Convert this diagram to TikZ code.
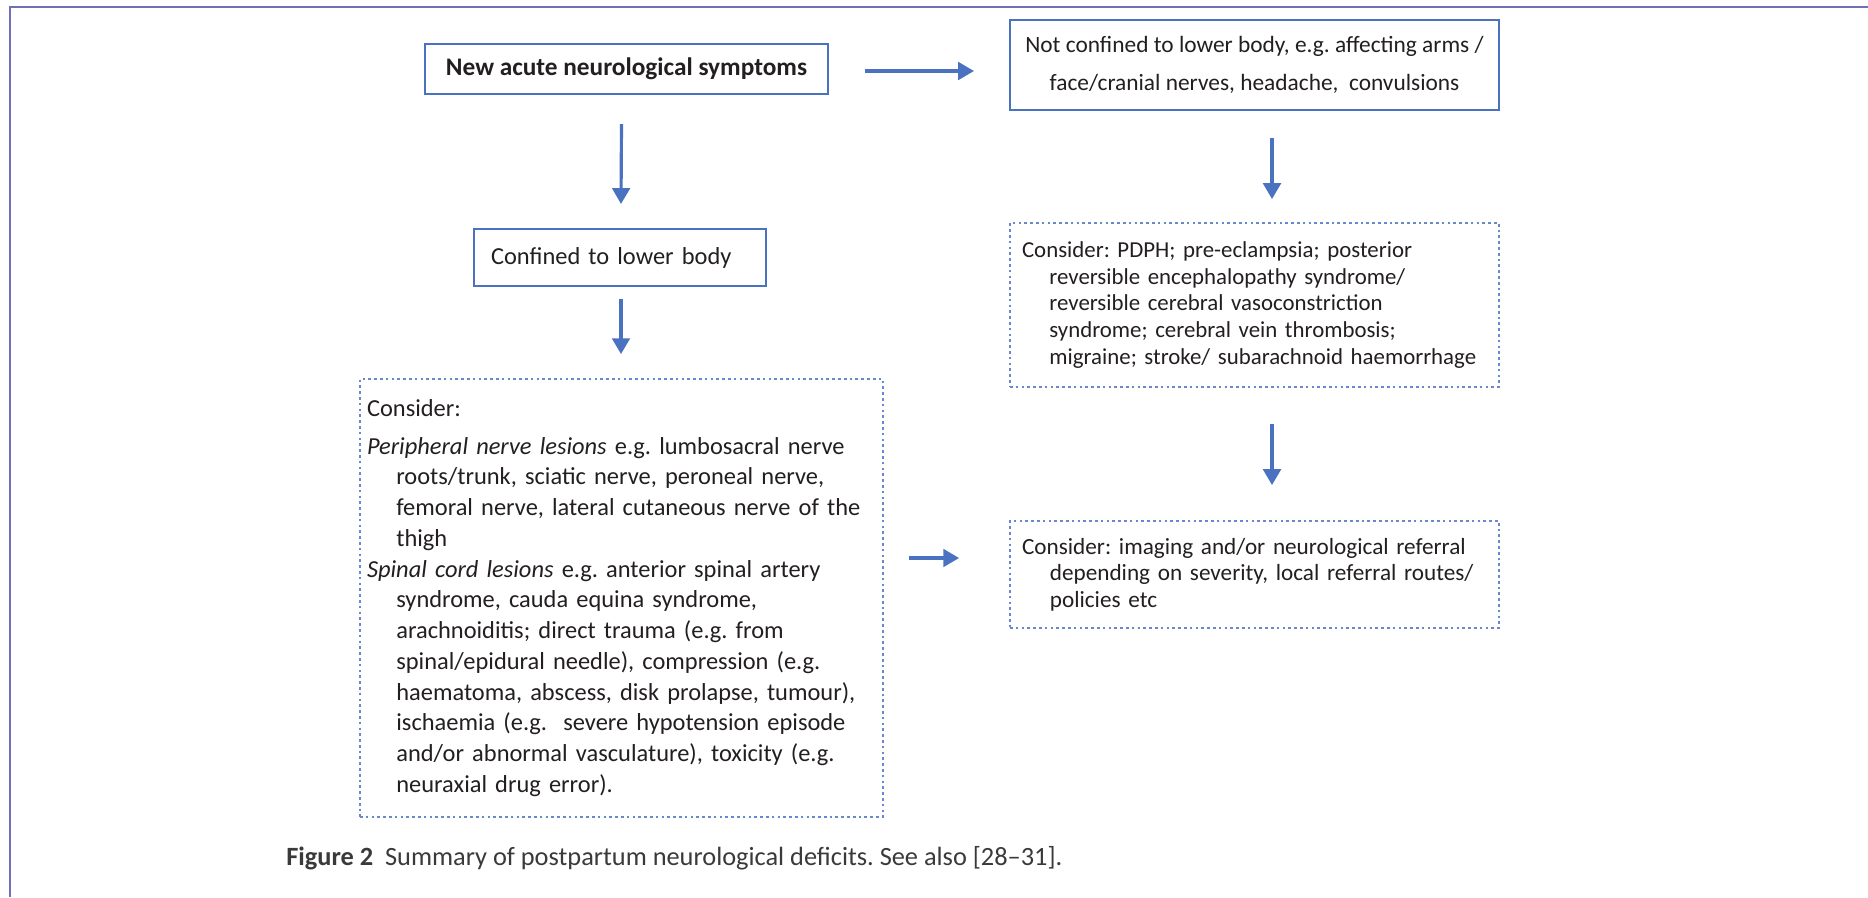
\documentclass[tikz,border=0pt]{standalone}
\usepackage{fontspec}
\setmainfont{Carlito}
\usetikzlibrary{arrows.meta,calc}
\definecolor{boxblue}{HTML}{4A72C0}
\definecolor{dotblue}{HTML}{6A88CC}
\definecolor{framec}{HTML}{7070B8}
\definecolor{txt}{HTML}{231F20}
\definecolor{captxt}{HTML}{3A3A3A}
\frenchspacing
\begin{document}
\begin{tikzpicture}[x=0.02cm,y=-0.02cm,
  basebox/.style={inner sep=0pt, text=txt, font=\fontsize{13}{15.1}\selectfont},
  solidbox/.style={basebox, draw=boxblue, line width=1.2pt},
  dotbox/.style={basebox, draw=dotblue, line width=1.1pt, dash pattern=on 1.5pt off 1.8pt},
  arr/.style={draw=boxblue, line width=1.8pt, -{Triangle[length=9pt,width=10pt]}}]
\useasboundingbox (0,0) rectangle (1868,897);
\fill[white] (0,0) rectangle (1868,897);
\draw[framec, line width=1.5pt] (10,897) -- (10,7) -- (1868,7);

\node[solidbox, minimum width=8.06cm, minimum height=1.0cm, align=center,
  font=\fontsize{14.4}{16}\selectfont\bfseries] (b1) at (626.5,69) {New acute neurological symptoms};
\node[solidbox, minimum width=9.78cm, minimum height=1.8cm, align=center,
  font=\fontsize{13.3}{22}\selectfont] (b4) at (1254.5,65)
  {Not confined to lower body, e.g. affecting arms /\\face/cranial nerves, headache,\ \ convulsions};
\node[solidbox, minimum width=5.84cm, minimum height=1.14cm, text width=5.16cm, inner xsep=0.34cm, align=left,
  font=\fontsize{13.9}{16}\selectfont] (b2) at (620,257.5) {Confined to lower body};
\node[dotbox, minimum width=10.46cm, minimum height=8.76cm, text width=10.18cm, inner xsep=0.14cm, align=left,
  font=\fontsize{13.9}{17.5}\selectfont] (b3) at (621.5,598)
  {Consider:\\[4pt]
   \textit{Peripheral nerve lesions} e.g. lumbosacral nerve\\
   \hspace*{1.2em}roots/trunk, sciatic nerve, peroneal nerve,\\
   \hspace*{1.2em}femoral nerve, lateral cutaneous nerve of the\\
   \hspace*{1.2em}thigh\\
   \textit{Spinal cord lesions} e.g. anterior spinal artery\\
   \hspace*{1.2em}syndrome, cauda equina syndrome,\\
   \hspace*{1.2em}arachnoiditis; direct trauma (e.g. from\\
   \hspace*{1.2em}spinal/epidural needle), compression (e.g.\\
   \hspace*{1.2em}haematoma, abscess, disk prolapse, tumour),\\
   \hspace*{1.2em}ischaemia (e.g.\ \ severe hypotension episode\\
   \hspace*{1.2em}and/or abnormal vasculature), toxicity (e.g.\\
   \hspace*{1.2em}neuraxial drug error).};
\node[dotbox, minimum width=9.78cm, minimum height=3.28cm, text width=9.3cm, inner xsep=0.24cm, align=left] (b6) at (1254.5,305)
  {Consider: PDPH; pre-eclampsia; posterior\\
   \hspace*{1.2em}reversible encephalopathy syndrome/\\
   \hspace*{1.2em}reversible cerebral vasoconstriction\\
   \hspace*{1.2em}syndrome; cerebral vein thrombosis;\\
   \hspace*{1.2em}migraine; stroke/ subarachnoid haemorrhage};
\node[dotbox, minimum width=9.78cm, minimum height=2.14cm, text width=9.3cm, inner xsep=0.24cm, align=left,
  font=\fontsize{13.2}{15.1}\selectfont] (b5) at (1254.5,574.5)
  {Consider: imaging and/or neurological referral\\
   \hspace*{1.2em}depending on severity, local referral routes/\\
   \hspace*{1.2em}policies etc};

\node[anchor=west, inner sep=0pt, text=captxt, font=\fontsize{15}{17}\selectfont] (cap) at (286,858)
  {\textbf{Figure 2}\ \ Summary of postpartum neurological deficits. See also [28--31].};

\draw[arr] ($(b1.east)+(36,2)$) -- ($(b4.west)+(-35,6)$);
\draw[arr] ($(b1.south)+(-5,29)$) -- ($(b2.north)+(1,-24)$);
\draw[arr] ($(b2.south)+(1,12)$) -- ($(b3.north)+(-0.5,-24)$);
\draw[arr] ($(b4.south)+(17.5,27)$) -- ($(b6.north)+(17.5,-23)$);
\draw[arr] ($(b6.south)+(17.5,36)$) -- ($(b5.north)+(17.5,-35)$);
\draw[arr] ($(b3.east)+(25,-40)$) -- ($(b5.west)+(-50,-16.5)$);
\end{tikzpicture}
\end{document}
